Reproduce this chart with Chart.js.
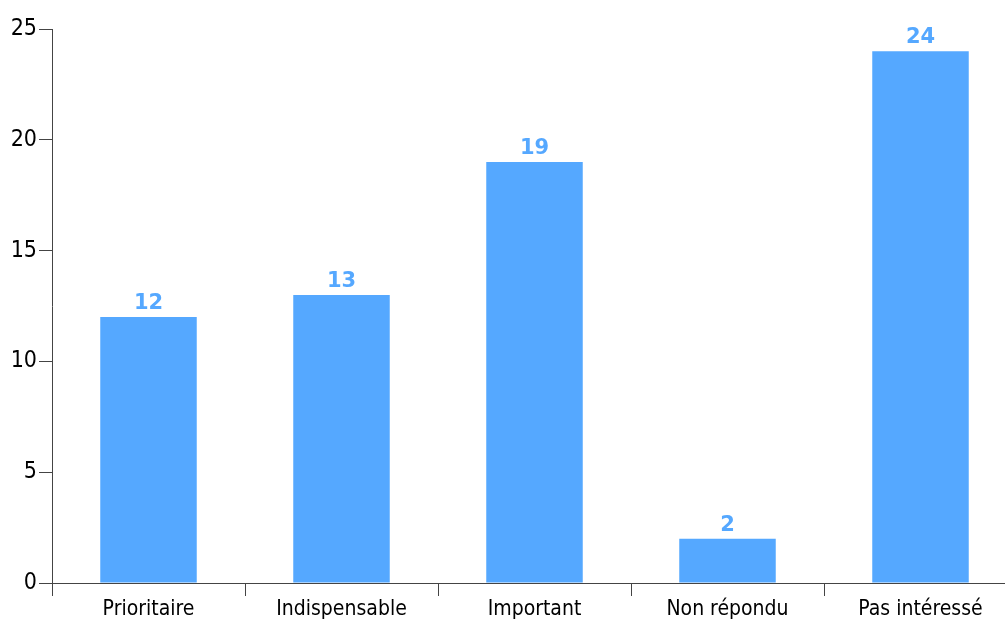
<!DOCTYPE html>
<html>
<head>
<meta charset="utf-8">
<script src="https://cdn.jsdelivr.net/npm/chart.js@4/dist/chart.umd.min.js"></script>
<style>
    html, body { margin: 0; padding: 0; background: #fff; overflow: hidden; }
    #wrap { width: 1017px; height: 621px; }
</style>
</head>
<body>
<div id="wrap"><canvas id="chart" width="1017" height="621"></canvas></div>
<script>
const categories = ['Prioritaire', 'Indispensable', 'Important', 'Non répondu', 'Pas intéressé'];
const values = [12, 13, 19, 2, 24];
const yTicks = [0, 5, 10, 15, 20, 25];

const barColor = '#55a8ff';
const axisColor = '#444444';
const textFont = '"DejaVu Sans Condensed", Tahoma, "DejaVu Sans", sans-serif';
const boldFont = 'Verdana, "DejaVu Sans", sans-serif';

// valeurs au-dessus des barres
const barLabels = {
    id: 'barLabels',
    afterDatasetsDraw(chart) {
        const ctx = chart.ctx;
        const meta = chart.getDatasetMeta(0);
        ctx.save();
        ctx.fillStyle = barColor;
        ctx.font = 'bold 21px ' + boldFont;
        ctx.textAlign = 'center';
        ctx.textBaseline = 'bottom';
        meta.data.forEach((bar, i) => {
            ctx.fillText(String(values[i]), bar.x, bar.y - 3);
        });
        ctx.restore();
    }
};

new Chart(document.getElementById('chart'), {
    type: 'bar',
    data: {
        labels: categories,
        datasets: [{
            data: values,
            backgroundColor: barColor,
            borderWidth: 0,
            barPercentage: 0.5,
            categoryPercentage: 1
        }]
    },
    options: {
        responsive: false,
        animation: false,
        layout: { padding: { top: 29, left: 0, right: 0, bottom: 0 } },
        plugins: {
            legend: { display: false },
            tooltip: { enabled: false }
        },
        scales: {
            x: {
                grid: {
                    offset: true,
                    drawOnChartArea: false,
                    drawTicks: true,
                    tickLength: 13,
                    color: axisColor
                },
                border: { color: axisColor, width: 1 },
                ticks: {
                    color: '#000',
                    font: { family: textFont, size: 21 },
                    padding: 1,
                    maxRotation: 0
                },
                afterFit(scale) { scale.height = 38; }
            },
            y: {
                min: 0,
                max: 25,
                afterBuildTicks(scale) {
                    scale.ticks = yTicks.map(v => ({ value: v }));
                },
                grid: {
                    drawOnChartArea: false,
                    drawTicks: true,
                    tickLength: 13,
                    color: axisColor
                },
                border: { color: axisColor, width: 1 },
                ticks: {
                    color: '#000',
                    font: { family: textFont, size: 23 },
                    padding: 2
                },
                afterFit(scale) { scale.width = 52; }
            }
        }
    },
    plugins: [barLabels]
});
</script>
</body>
</html>
